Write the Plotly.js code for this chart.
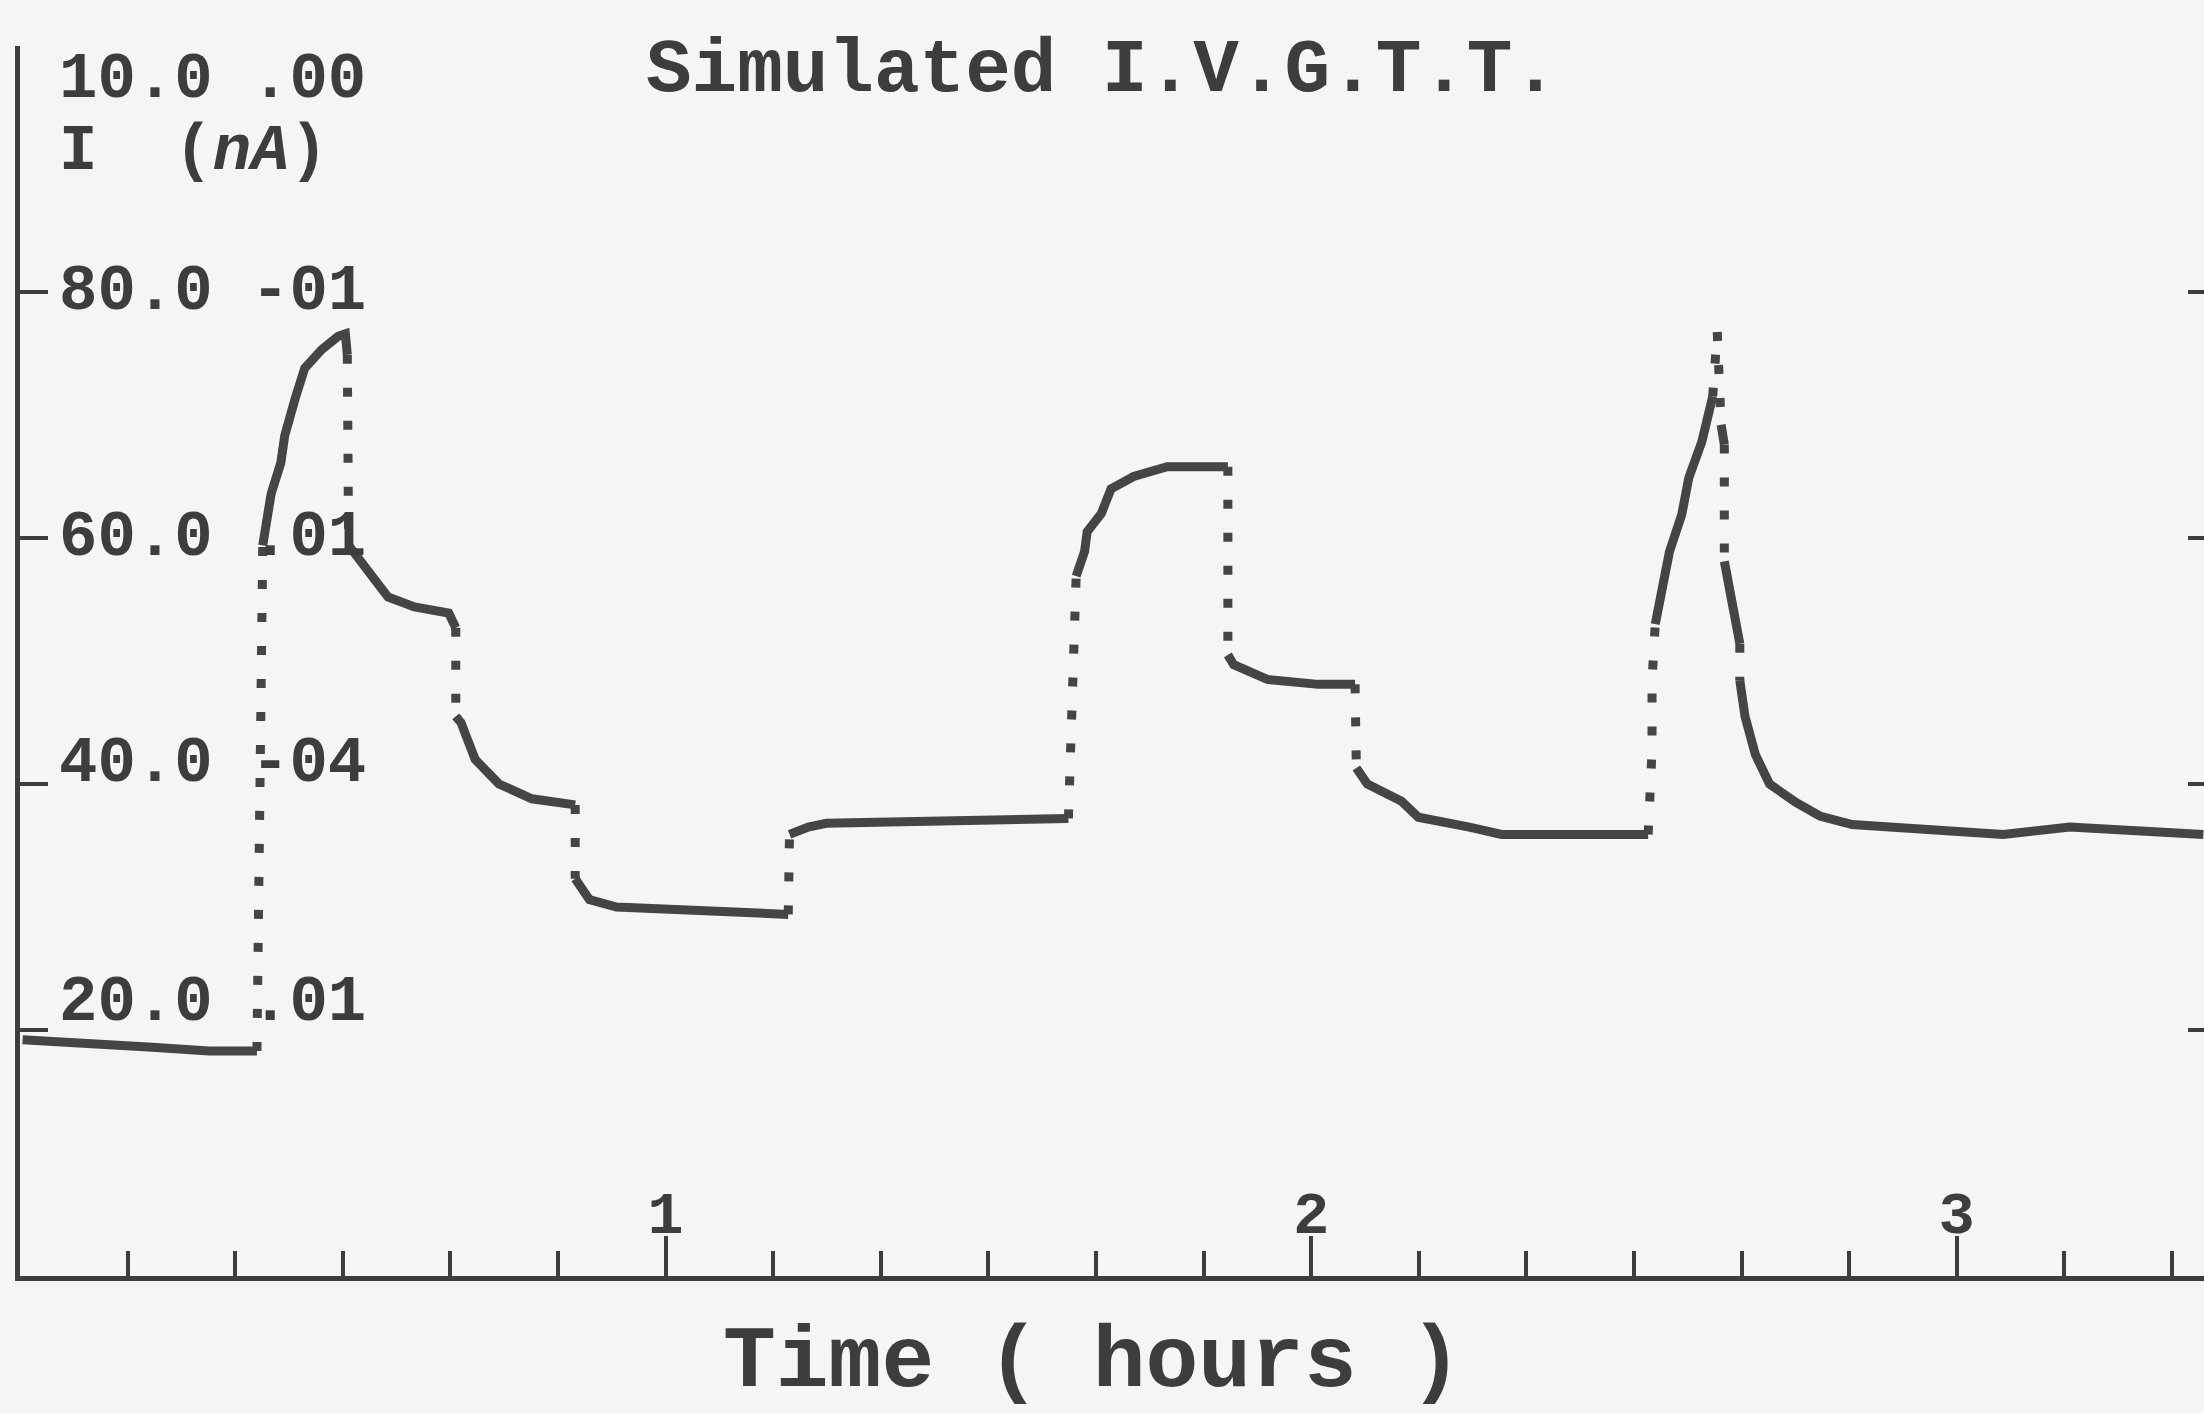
<!DOCTYPE html>
<html>
<head>
<meta charset="utf-8">
<script src="https://cdn.plot.ly/plotly-3.0.1.min.js"></script>
<style>
  html, body { margin: 0; padding: 0; background: #f5f5f4; }
  #chart { width: 2204px; height: 1413px; }
</style>
</head>
<body>
<div id="chart"></div>
<script>
// ---- data (time in hours, current in nA) ----
const timeH = [
  0.004, 0.096, 0.205, 0.293, 0.367,
  0.376, 0.389, 0.404, 0.410, 0.426, 0.441, 0.467, 0.493, 0.504,
  0.507, 0.507, 0.509, 0.539, 0.570, 0.611, 0.664,
  0.675, 0.675, 0.683, 0.705, 0.742, 0.793, 0.860,
  0.860, 0.882, 0.924, 1.057, 1.190,
  1.192, 1.221, 1.249, 1.384, 1.493, 1.624,
  1.636, 1.649, 1.653, 1.675, 1.690, 1.725, 1.777, 1.871,
  1.871, 1.880, 1.932, 2.011, 2.068,
  2.070, 2.087, 2.140, 2.166, 2.245, 2.295, 2.410, 2.522,
  2.524, 2.528, 2.528, 2.533, 2.544, 2.555, 2.574, 2.585, 2.605, 2.622, 2.629,
  2.635, 2.640, 2.640, 2.653, 2.664, 2.664, 2.672, 2.688, 2.710, 2.751, 2.788, 2.838,
  3.072, 3.175, 3.382
];
const currentNA = [
  19.2, 19.0, 18.6, 18.3, 18.3,
  59.4, 63.6, 66.1, 68.3, 71.3, 73.8, 75.3, 76.4, 76.6,
  74.9, 62.0, 59.4, 57.3, 55.2, 54.4, 53.9,
  52.7, 45.5, 45.0, 42.0, 40.0, 38.8, 38.3,
  32.3, 30.6, 30.0, 29.7, 29.4,
  35.9, 36.5, 36.8, 36.9, 37.0, 37.2,
  56.9, 58.9, 60.5, 62.0, 64.0, 65.0, 65.8, 65.8,
  50.5, 49.7, 48.5, 48.1, 48.1,
  41.3, 40.0, 38.6, 37.3, 36.5, 35.9, 35.9, 35.9,
  37.4, 42.7, 48.4, 53.0, 55.9, 58.9, 61.9, 64.9, 67.8, 71.5, 76.8,
  69.2, 67.6, 58.1, 54.4, 51.4, 48.4, 45.5, 42.4, 40.0, 38.5, 37.4, 36.7,
  35.9, 36.5, 35.9
];

// ---- axis labels ----
const xTickVals = [1, 2, 3];
const xTickText = ["1", "2", "3"];
const xMinorPerHour = 6;
const yTickVals = [20, 40, 60, 80, 100];
const yLabelVals = [20, 40, 60, 80];
const yLabelText = ["20.0 .01", "40.0 -04", "60.0 .01", "80.0 -01"];
const yLabelShiftPx = [27, 20, 0, 0];   // printed labels sit a little above their ticks
const yTopLabel = "10.0 .00";
const yUnitLabel = "I\u00a0\u00a0(<i>nA</i>)";
const chartTitle = "Simulated I.V.G.T.T.";
const xTitle = "Time ( hours )";

// ---- styling ----
const ink = "#3d3d3d";
const traceInk = "#454545";
const paperBg = "#f5f5f4";
const mono = "Liberation Mono, DejaVu Sans Mono, monospace";
const xMax = 3.383;
const labelFont = { family: mono, size: 64, color: ink, weight: 700 };
const labelX = 37 / 2184;

// split the single curve into solid (gentle) and dotted (steep) runs,
// imitating the printer plot where fast changes appear as isolated dots
const steepSlope = 700; // nA per hour
const solidX = [], solidY = [], dotX = [], dotY = [];
let lastKind = null;
for (let i = 0; i < timeH.length - 1; i++) {
  const dt = timeH[i + 1] - timeH[i];
  const dI = currentNA[i + 1] - currentNA[i];
  const steep = dt <= 0 ? true : Math.abs(dI / dt) > steepSlope;
  const X = steep ? dotX : solidX;
  const Y = steep ? dotY : solidY;
  const kind = steep ? "dot" : "solid";
  if (kind !== lastKind) {
    if (X.length) { X.push(null); Y.push(null); }
    X.push(timeH[i]); Y.push(currentNA[i]);
  }
  X.push(timeH[i + 1]); Y.push(currentNA[i + 1]);
  lastKind = kind;
}

const traces = [
  {
    x: solidX, y: solidY, type: "scatter", mode: "lines",
    line: { color: traceInk, width: 9 }, hoverinfo: "skip", showlegend: false
  },
  {
    x: dotX, y: dotY, type: "scatter", mode: "lines", yaxis: "y2",
    line: { color: traceInk, width: 9, dash: "9px,24px" }, hoverinfo: "skip", showlegend: false
  }
];

const annotations = yLabelVals.map((v, i) => ({
  text: yLabelText[i], xref: "paper", yref: "y",
  x: labelX, y: v, yshift: yLabelShiftPx[i], xanchor: "left", yanchor: "middle",
  showarrow: false, font: labelFont
}));
annotations.push(
  {
    text: yTopLabel, xref: "paper", yref: "paper",
    x: labelX, y: (1276 - 80) / 1230, xanchor: "left", yanchor: "middle",
    showarrow: false, font: labelFont
  },
  {
    text: yUnitLabel, xref: "paper", yref: "paper",
    x: labelX, y: (1276 - 152) / 1230, xanchor: "left", yanchor: "middle",
    showarrow: false, font: labelFont
  },
  {
    text: xTitle, xref: "paper", yref: "paper",
    x: (1092 - 20) / 2184, y: (1276 - 1362) / 1230, xanchor: "center", yanchor: "middle",
    showarrow: false, font: { family: mono, size: 88, color: ink, weight: 700 }
  }
);

const layout = {
  width: 2204, height: 1413,
  paper_bgcolor: paperBg, plot_bgcolor: paperBg,
  margin: { l: 20, r: 0, t: 46, b: 137, pad: 0 },
  showlegend: false,
  title: {
    text: chartTitle, x: 0.5, xref: "container", xanchor: "center",
    y: 1 - 64 / 1413, yref: "container", yanchor: "middle",
    font: { family: mono, size: 76, color: ink, weight: 700 }
  },
  xaxis: {
    range: [0, xMax], showgrid: false, zeroline: false,
    showline: true, linewidth: 5, linecolor: ink,
    ticks: "inside", ticklen: 40, tickwidth: 4, tickcolor: ink,
    tickmode: "array", tickvals: xTickVals, ticktext: xTickText,
    ticklabelposition: "inside",
    tickfont: { family: mono, size: 60, color: ink, weight: 700 },
    minor: { tick0: 0, dtick: 1 / xMinorPerHour, ticks: "inside", ticklen: 25, tickwidth: 4, tickcolor: ink, showgrid: false },
    automargin: false, fixedrange: true
  },
  yaxis: {
    range: [0, 100], showgrid: false, zeroline: false,
    showline: true, linewidth: 5, linecolor: ink,
    ticks: "inside", ticklen: 28, tickwidth: 4, tickcolor: ink,
    tickmode: "array", tickvals: yTickVals, showticklabels: false,
    automargin: false, fixedrange: true
  },
  yaxis2: {
    overlaying: "y", side: "right", range: [0, 100],
    showgrid: false, zeroline: false,
    showline: true, linewidth: 3, linecolor: ink,
    ticks: "inside", ticklen: 16, tickwidth: 4, tickcolor: ink,
    tickmode: "array", tickvals: yTickVals, showticklabels: false,
    automargin: false, fixedrange: true
  },
  annotations: annotations
};

Plotly.newPlot("chart", traces, layout, { staticPlot: true, displayModeBar: false });
</script>
</body>
</html>
